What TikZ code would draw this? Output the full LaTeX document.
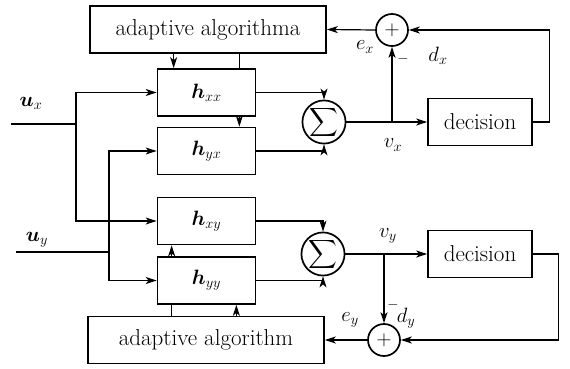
\documentclass[tikz,border=0pt]{standalone}
\usepackage{amsmath,amssymb,bm}
\usetikzlibrary{positioning,arrows.meta}

\begin{document}
\begin{tikzpicture}[x=1pt,y=-1pt,font=\fontsize{20}{24}\selectfont,
    line width=1.2pt, >={Stealth[length=11pt,width=7pt,inset=3pt]},
    blk/.style={draw,line width=1.7pt,inner sep=0pt},
    hbox/.style={blk,minimum width=98pt,minimum height=47pt},
    ada/.style={blk,minimum width=236pt,minimum height=47pt,font=\fontsize{23}{26}\selectfont},
    dec/.style={blk,minimum width=104pt,minimum height=47pt,font=\fontsize{23}{26}\selectfont},
    sumc/.style={blk,circle,minimum size=40pt},
    plusc/.style={blk,circle,minimum size=32pt},
    lab/.style={inner sep=1pt}]
  \useasboundingbox (0,0) rectangle (570,369);

  % 四个滤波器
  \foreach \n/\s/\y in {hxx/xx/92.5, hyx/yx/151, hxy/xy/221, hyy/yy/280.5}
    \node[hbox] (\n) at (206.5,\y) {$\bm{h}_{\s}$};

  % 上支路
  \node[ada] (ada1) at (208,29.5) {adaptive algorithma};
  \node[sumc] (sum1) at (324,122) {$\displaystyle\sum$};
  \node[dec] (dec1) at (480,122) {decision};
  \node[plusc] (plus1) at (392,30) {$+$};
  \coordinate (vx) at (392,122);

  % 下支路
  \node[ada] (ada2) at (206,340) {adaptive algorithm};
  \node[sumc] (sum2) at (323,254) {$\displaystyle\sum$};
  \node[dec] (dec2) at (480,254) {decision};
  \node[plusc] (plus2) at (384,340) {$+$};
  \coordinate (vy) at (384,254);

  % 输入
  \coordinate (uxin) at (11,124);
  \coordinate (uxb) at (76,124);
  \coordinate (uyin) at (16,252);
  \coordinate (uyb) at (109,252);
  \node[lab] (lux) at (31,103) {$\bm{u}_x$};
  \node[lab] (luy) at (37,240) {$\bm{u}_y$};

  \draw (uxin) -- (uxb);
  \draw[->] (uxb) |- (hxx.west);
  \draw[->] (uxb) |- (hxy.west);
  \draw (uyin) -- (uyb);
  \draw[->] (uyb) |- (hyx.west);
  \draw[->] (uyb) |- (hyy.west);

  % 求和
  \draw[->] (hxx.east) -| (sum1.north);
  \draw[->] (hyx.east) -| (sum1.south);
  \draw[->] (hxy.east) -| (sum2.north);
  \draw[->] (hyy.east) -| (sum2.south);
  \draw[->] (sum1.east) -- (dec1.west);
  \draw[->] (sum2.east) -- (dec2.west);

  % 误差反馈
  \draw[->] (vx) -- (plus1.south);
  \draw[->] (dec1.east) -- ++(17,0) |- (plus1.east);
  \draw[->] (plus1.west) -- (ada1.east);
  \draw[->] (vy) -- (plus2.north);
  \draw[->] (dec2.east) -- ++(26,0) |- (plus2.east);
  \draw[->] (plus2.west) -- (ada2.east);

  % 系数更新
  \draw[->] ([xshift=17pt]hxx.north west |- ada1.south) -- ([xshift=17pt]hxx.north west);
  \draw ([xshift=-17pt]hxx.north east) -- ([xshift=-17pt]hxx.north east |- ada1.south);
  \draw[->] ([xshift=-17pt]hxx.south east) -- ([xshift=-17pt]hyx.north east);
  \draw[->] ([xshift=15pt]hyy.north west) -- ([xshift=15pt]hxy.south west);
  \draw ([xshift=15pt]hyy.south west) -- ([xshift=15pt]hyy.south west |- ada2.north);
  \draw[->] ([xshift=-20pt]hyy.south east |- ada2.north) -- ([xshift=-20pt]hyy.south east);

  % 标注
  \node[lab] (lex) at (365,47) {$e_x$};
  \node[lab] (ldx) at (438,56) {$d_x$};
  \node[lab] (lvx) at (393,145) {$v_x$};
  \node[lab,font=\fontsize{14}{16}\selectfont] (lmx) at (403,59) {$-$};
  \node[lab] (ley) at (350,320) {$e_y$};
  \node[lab] (ldy) at (406,318) {$d_y$};
  \node[lab] (lvy) at (388,236) {$v_y$};
  \node[lab,font=\fontsize{14}{16}\selectfont] (lmy) at (393,305) {$-$};
\end{tikzpicture}
\end{document}
